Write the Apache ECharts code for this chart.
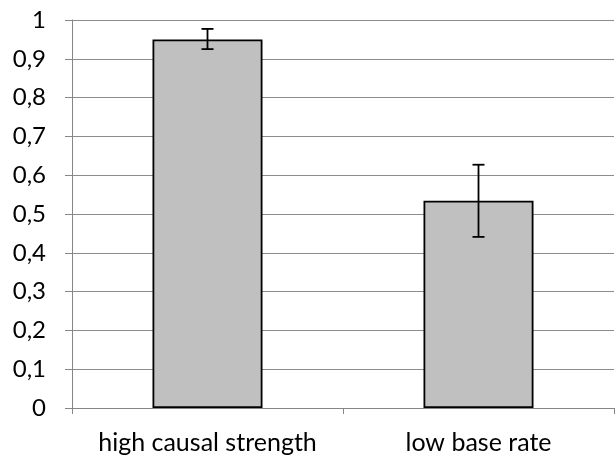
<!DOCTYPE html>
<html><head><meta charset="utf-8">
<script src="https://cdn.jsdelivr.net/npm/echarts@6/dist/echarts.min.js"></script>
<style>html,body{margin:0;padding:0;background:#fff}#c{width:616px;height:457px}</style>
</head><body><div id="c"></div>
<script>
var categories = ['high causal strength', 'low base rate'];
var values = [0.95, 0.534];
var errLow = [0.925, 0.441];
var errHigh = [0.977, 0.627];

var chart = echarts.init(document.getElementById('c'));
var font = 'Lato';
chart.setOption({
  animation: false,
  grid: {left: 72, right: 2, top: 20, bottom: 49, containLabel: false},
  xAxis: {
    type: 'category', data: categories,
    axisLine: {lineStyle: {color: '#868686', width: 1}},
    axisTick: {show: true, length: 6, lineStyle: {color: '#868686'}},
    axisLabel: {color: '#000', fontFamily: font, fontSize: 25, margin: 22, interval: 0, hideOverlap: false}
  },
  yAxis: {
    type: 'value', min: 0, max: 1, interval: 0.1,
    axisLine: {show: true, lineStyle: {color: '#868686'}},
    axisTick: {show: true, length: 7, lineStyle: {color: '#868686'}},
    splitLine: {lineStyle: {color: '#8c8c8c', width: 1}},
    axisLabel: {color: '#000', fontFamily: font, fontSize: 24, margin: 26,
      formatter: function (v) { return String(Math.round(v * 10) / 10).replace('.', ','); }}
  },
  series: [{
    type: 'bar', data: values, barWidth: 110,
    itemStyle: {color: '#c0c0c0', borderColor: '#000', borderWidth: 1.8}
  }, {
    type: 'custom',
    data: categories.map(function (c, i) { return [i, errLow[i], errHigh[i]]; }),
    renderItem: function (params, api) {
      var x = api.value(0);
      var lo = api.coord([x, api.value(1)]);
      var hi = api.coord([x, api.value(2)]);
      var w = 6;
      var st = {stroke: '#000', lineWidth: 1.8};
      return {type: 'group', children: [
        {type: 'line', shape: {x1: lo[0], y1: lo[1], x2: hi[0], y2: hi[1]}, style: st},
        {type: 'line', shape: {x1: lo[0] - w, y1: lo[1], x2: lo[0] + w, y2: lo[1]}, style: st},
        {type: 'line', shape: {x1: hi[0] - w, y1: hi[1], x2: hi[0] + w, y2: hi[1]}, style: st}
      ]};
    },
    z: 10
  }]
});
</script></body></html>
